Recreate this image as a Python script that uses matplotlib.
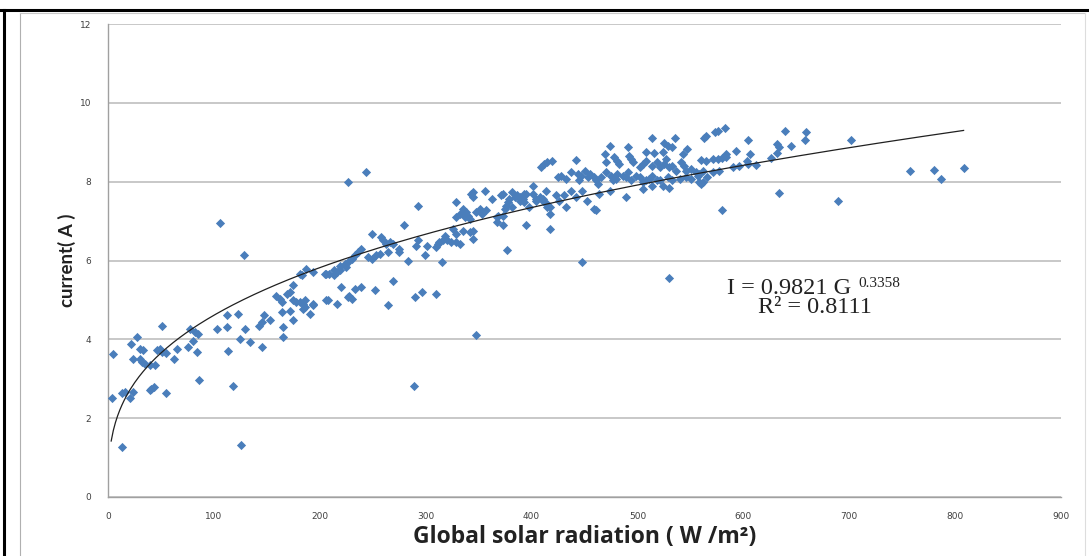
import numpy as np
import matplotlib
matplotlib.use("Agg")
import matplotlib.pyplot as plt
from matplotlib.lines import Line2D

# Global solar radiation (W/m2) and current (A)
radiation = [
    5, 4, 13.5, 126, 16, 13, 24, 21, 41, 40, 43, 55, 86, 118, 27, 51, 22, 30, 33, 24,
    30, 32, 35, 40, 44, 46, 49, 51, 55, 65, 62, 76, 77, 82, 80, 85, 84, 103, 112, 112,
    123, 113, 125, 129, 134, 145, 143, 147, 145, 153, 164, 165, 165, 175, 172, 175, 181, 184, 191, 194,
    216, 106, 128, 227, 187, 183, 194, 206, 213, 216, 219, 225, 220, 227, 208, 175, 169, 172, 159, 162,
    164, 178, 186, 194, 244, 293, 280, 249, 258, 260, 263, 266, 239, 236, 233, 230, 227, 224, 219, 213,
    209, 205, 181, 246, 249, 253, 257, 264, 269, 275, 275, 283, 291, 293, 301, 299, 310, 312, 313, 316,
    318, 320, 324, 329, 332, 329, 335, 342, 345, 345, 315, 326, 329, 329, 332, 335, 337, 338, 340, 342,
    345, 343, 345, 348, 351, 353, 356, 357, 363, 367, 367, 368, 373, 373, 371, 375, 376, 378, 379, 382,
    382, 386, 389, 392, 393, 395, 395, 398, 401, 404, 408, 411, 414, 415, 409, 412, 415, 377, 348, 206,
    228, 230, 233, 239, 252, 264, 269, 290, 297, 310, 289, 186, 184,
    583, 576, 565, 563, 535, 514, 525, 529, 533, 491, 474, 508, 516, 524, 543, 547, 560, 565, 571, 584,
    593, 603, 419, 442, 469, 470, 478, 481, 483, 492, 494, 496, 502, 505, 508, 514, 518, 521, 525, 527,
    530, 533, 536, 541, 544, 546, 551, 555, 558, 562, 425, 428, 433, 437, 444, 445, 447, 450, 453, 455,
    459, 461, 463, 466, 470, 475, 477, 480, 481, 486, 489, 491, 494, 499, 502, 505, 508, 511, 514, 518,
    521, 524, 529, 533, 540, 546, 551, 557, 562, 566, 571, 577, 590, 596, 604, 373, 384, 389, 393, 401,
    404, 411, 415, 417, 417, 423, 426, 431, 433, 437, 442, 448, 452, 459, 461, 464, 474, 489, 505, 514,
    530, 558, 580, 417, 448, 530, 573, 604, 606, 612, 626, 632, 634, 639, 645, 632, 658, 659, 702, 576,
    580, 584, 560, 634, 689, 757, 780, 787, 808,
]
current = [
    3.64, 2.52, 1.27, 1.31, 2.67, 2.63, 2.67, 2.50, 2.75, 2.71, 2.79, 2.64, 2.96, 2.82, 4.06, 4.35, 3.89, 3.76, 3.72, 3.49,
    3.51, 3.43, 3.38, 3.34, 3.34, 3.72, 3.76, 3.68, 3.65, 3.76, 3.51, 3.81, 4.27, 4.18, 3.97, 4.14, 3.68, 4.27, 4.31, 4.61,
    4.65, 3.70, 4.02, 4.27, 3.93, 3.81, 4.35, 4.61, 4.44, 4.48, 4.69, 4.31, 4.06, 4.48, 4.73, 4.99, 4.94, 4.90, 4.65, 4.89,
    4.89, 6.94, 6.14, 7.98, 5.79, 5.62, 5.70, 5.66, 5.62, 5.70, 5.75, 5.83, 5.32, 5.07, 5.00, 5.37, 5.16, 5.20, 5.11, 5.03,
    4.94, 4.94, 4.82, 4.86, 8.24, 7.39, 6.89, 6.68, 6.59, 6.51, 6.42, 6.46, 6.30, 6.21, 6.13, 6.04, 5.96, 5.92, 5.87, 5.75,
    5.66, 5.66, 5.66, 6.08, 6.04, 6.13, 6.17, 6.21, 6.42, 6.21, 6.30, 6.00, 6.38, 6.51, 6.38, 6.13, 6.34, 6.42, 6.46, 6.51,
    6.63, 6.51, 6.46, 6.46, 6.42, 6.68, 6.76, 6.72, 6.76, 6.55, 5.96, 6.80, 7.10, 7.48, 7.18, 7.31, 7.10, 7.22, 7.14, 7.05,
    7.60, 7.69, 7.73, 7.22, 7.31, 7.18, 7.77, 7.27, 7.56, 7.10, 6.97, 7.14, 7.14, 6.89, 7.65, 7.31, 7.39, 7.48, 7.56, 7.73,
    7.35, 7.65, 7.60, 7.56, 7.48, 7.69, 6.89, 7.35, 7.90, 7.56, 7.60, 7.52, 7.77, 7.35, 8.36, 8.44, 8.49, 6.27, 4.10, 4.99,
    5.11, 5.03, 5.28, 5.32, 5.24, 4.86, 5.49, 5.07, 5.20, 5.16, 2.81, 4.99, 4.78,
    9.37, 9.29, 9.16, 9.12, 9.12, 9.12, 8.97, 8.91, 8.87, 8.87, 8.91, 8.74, 8.72, 8.74, 8.70, 8.83, 8.55, 8.53, 8.57, 8.70,
    8.77, 8.53, 8.53, 8.55, 8.70, 8.49, 8.62, 8.53, 8.45, 8.66, 8.57, 8.49, 8.36, 8.45, 8.53, 8.41, 8.49, 8.36, 8.45, 8.57,
    8.36, 8.41, 8.28, 8.49, 8.41, 8.28, 8.32, 8.24, 8.19, 8.28, 8.11, 8.15, 8.07, 8.24, 8.19, 8.03, 8.15, 8.28, 8.11, 8.19,
    8.11, 8.03, 7.94, 8.11, 8.24, 8.15, 8.03, 8.07, 8.19, 8.15, 8.11, 8.24, 8.03, 8.15, 8.11, 7.98, 8.03, 8.07, 8.15, 8.03,
    8.03, 7.90, 8.11, 8.03, 8.07, 8.11, 8.07, 8.15, 7.98, 8.11, 8.24, 8.28, 8.36, 8.41, 8.44, 7.69, 7.60, 7.52, 7.69, 7.69,
    7.52, 7.56, 7.43, 7.18, 7.35, 7.65, 7.52, 7.65, 7.35, 7.77, 7.60, 7.77, 7.52, 7.31, 7.27, 7.69, 7.77, 7.60, 7.81, 7.90,
    7.84, 7.98, 7.28, 6.80, 5.96, 5.55, 9.25, 9.05, 8.70, 8.43, 8.60, 8.95, 8.87, 9.29, 8.91, 8.72, 9.05, 9.25, 9.05, 8.57,
    8.61, 8.63, 7.94, 7.71, 7.50, 8.28, 8.30, 8.08, 8.34,
]

fit_coef = 0.9821
fit_exp = 0.3358
fit_range = [3, 808]

x_ticks = [0, 100, 200, 300, 400, 500, 600, 700, 800, 900]
y_ticks = [0, 2, 4, 6, 8, 10, 12]

W, H = 1089, 556
fig = plt.figure(figsize=(W / 100, H / 100), dpi=100)
fig.patch.set_facecolor("white")

# outer frame (black top & left) and inner gray frame
fig.add_artist(Line2D([0, 1], [1 - 9.5 / H, 1 - 9.5 / H], color="black", lw=2.2, transform=fig.transFigure))
fig.add_artist(Line2D([3.5 / W, 3.5 / W], [0, 1 - 9.5 / H], color="black", lw=2.2, transform=fig.transFigure))
fig.add_artist(Line2D([20 / W, 20 / W], [0, 1 - 13 / H], color="#b0b0b0", lw=0.8, transform=fig.transFigure))
fig.add_artist(Line2D([20 / W, 1085 / W], [1 - 13 / H, 1 - 13 / H], color="#c8c8c8", lw=0.8, transform=fig.transFigure))
fig.add_artist(Line2D([1085 / W, 1085 / W], [0, 1 - 13 / H], color="#dddddd", lw=0.8, transform=fig.transFigure))

left, right, top, bottom = 108, 1061, 24, 497
ax = fig.add_axes([left / W, 1 - bottom / H, (right - left) / W, (bottom - top) / H])
ax.set_xlim(0, 900)
ax.set_ylim(0, 12)
ax.set_xticks(x_ticks)
ax.set_yticks(y_ticks)
ax.tick_params(length=0, labelsize=6.5, labelcolor="#404040")
ax.tick_params(axis="y", pad=12)
ax.tick_params(axis="x", pad=11)
for s in ["top", "right"]:
    ax.spines[s].set_visible(False)
for s in ["left", "bottom"]:
    ax.spines[s].set_color("#a0a0a0")
    ax.spines[s].set_linewidth(1.0)
ax.grid(axis="y", color="#c4c4c4", lw=1.3)
ax.set_axisbelow(True)

ax.scatter(radiation, current, marker="D", s=22, color="#4a7ebb", linewidths=0, zorder=3)

g = np.linspace(fit_range[0], fit_range[1], 400)
ax.plot(g, fit_coef * g ** fit_exp, color="#202020", lw=0.9, zorder=4)

ax.set_xlabel("Global solar radiation ( W /m²)", fontsize=16.5, fontweight="bold",
              family=["Open Sans", "DejaVu Sans"], color="#222222", labelpad=3)
ax.set_ylabel("current( A )", fontsize=13.5, fontweight="bold",
              family=["Lato", "DejaVu Sans"], color="#222222", labelpad=3)

t1 = ax.text(585, 5.16, "I = 0.9821 G", family="Liberation Serif", fontsize=17.5, color="#222222",
             ha="left", va="baseline", zorder=5)
ax.annotate("0.3358", xy=(1, 0), xycoords=t1, xytext=(5, 6.5), textcoords="offset points",
            family="Liberation Serif", fontsize=11, color="#222222", ha="left", va="bottom", zorder=5)
ax.text(614, 4.66, "R² = 0.8111", family="Liberation Serif", fontsize=17.5, color="#222222",
        ha="left", va="baseline", zorder=5)

fig.savefig("out.png", dpi=100)
